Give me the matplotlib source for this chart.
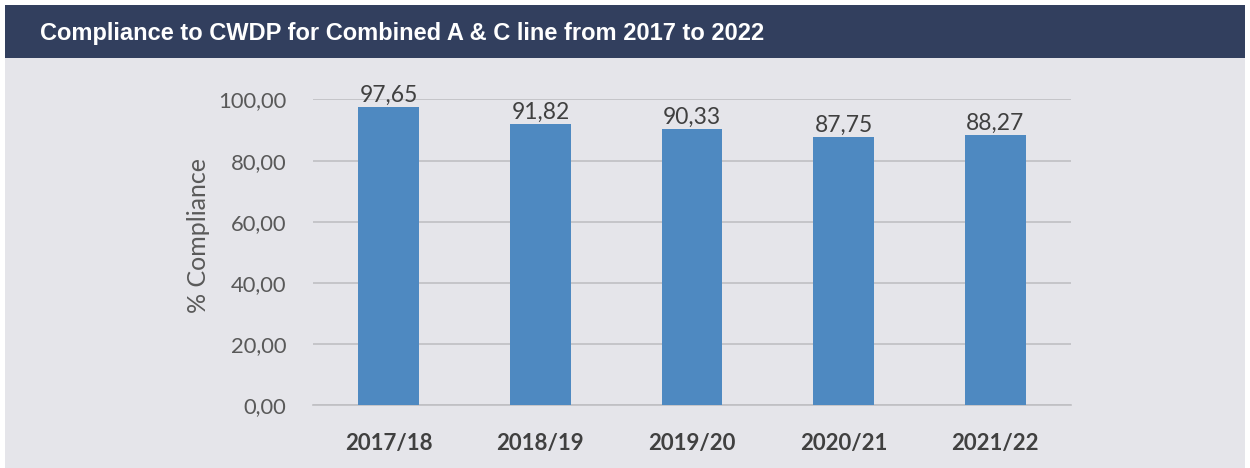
import matplotlib.pyplot as plt
from matplotlib.patches import Rectangle

# 数据
seasons = ['2017/18', '2018/19', '2019/20', '2020/21', '2021/22']
compliance = [97.65, 91.82, 90.33, 87.75, 88.27]
y_ticks = [0, 20, 40, 60, 80, 100]

title = 'Compliance to CWDP for Combined A & C line from 2017 to 2022'

fig = plt.figure(figsize=(12.5, 4.68), dpi=100, facecolor='white')

# 背景和标题栏
fig.patches.append(Rectangle((0.004, 0.0), 0.992, 0.877, transform=fig.transFigure,
                             facecolor='#e5e5ea', edgecolor='none', zorder=-2))
fig.patches.append(Rectangle((0.004, 0.877), 0.992, 0.113, transform=fig.transFigure,
                             facecolor='#323f5e', edgecolor='none', zorder=-2))
fig.text(0.032, 0.929, title, color='white', fontsize=17, fontweight='bold',
         family='Liberation Sans', va='center', ha='left')

ax = fig.add_axes([0.2504, 0.1346, 0.6064, 0.6528])
ax.patch.set_visible(False)

x = range(len(seasons))
bars = ax.bar(x, compliance, width=0.4, color='#4e89c1', zorder=3)
for b, v in zip(bars, compliance):
    ax.text(b.get_x() + b.get_width() / 2, v + 0.4, '{:.2f}'.format(v).replace('.', ','),
            ha='center', va='bottom', fontsize=16.5, color='#404040', family='Lato', zorder=4)

ax.set_xlim(-0.5, len(seasons) - 0.5)
ax.set_ylim(0, 100)
ax.set_yticks(y_ticks)
ax.set_yticklabels(['{:.2f}'.format(t).replace('.', ',') for t in y_ticks],
                   fontsize=15.8, color='#595959', family='Lato')
ax.set_xticks(list(x))
ax.set_xticklabels(seasons, fontsize=16, fontweight='bold', color='#404040', family='Lato')
ax.tick_params(axis='y', length=0, pad=19)
ax.tick_params(axis='x', length=0, pad=20)
ax.grid(axis='y', color='#bfbfc3', linewidth=1.2, zorder=0)
for s in ['top', 'right', 'left']:
    ax.spines[s].set_visible(False)
ax.spines['bottom'].set_color('#bfbfc3')
ax.spines['bottom'].set_linewidth(1.2)

ax.set_ylabel('% Compliance', fontsize=18, color='#595959', family='Lato', labelpad=6)
ax.yaxis.label.set_y(0.555)

fig.savefig('out.png', dpi=100)
